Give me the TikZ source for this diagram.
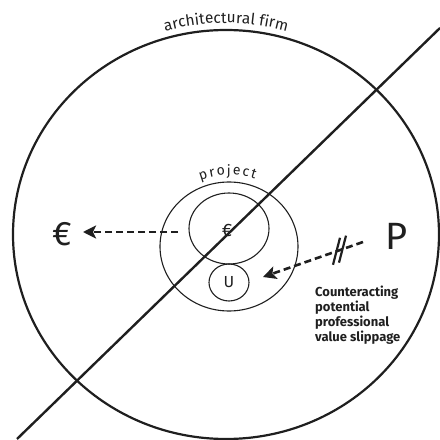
\documentclass[tikz,border=0pt]{standalone}
\usepackage{fontspec}
\setmainfont{Fira Sans}
\usetikzlibrary{arrows.meta,decorations.text,shapes.geometric}
\begin{document}
\begin{tikzpicture}[x=1pt,y=1pt,
  ink/.style={black!88},
  thickring/.style={ink, draw, ellipse, line width=2.2pt, inner sep=0pt},
  thinring/.style={ink, draw, ellipse, line width=1.1pt, inner sep=0pt},
  bigline/.style={ink, line width=2.4pt},
  dasharrow/.style={ink, line width=2.6pt, dash pattern=on 7pt off 4pt,
    -{Stealth[length=13pt,width=13pt,inset=3pt]}},
  breakmark/.style={ink, line width=2.2pt},
  label/.style={ink, inner sep=0pt},
]
\useasboundingbox (0,0) rectangle (440,440);

% rings
\node[thickring, minimum width=426pt, minimum height=409pt] (firm) at (226,205.5) {};
\node[thinring, minimum width=138pt, minimum height=129pt] (project) at (229,193.5) {};
\node[thinring, minimum width=80pt, minimum height=71pt] (eurocircle) at (229,211.5) {};
\node[thinring, minimum width=40pt, minimum height=37pt] (ucircle) at (229,157.5) {};

% diagonal line
\coordinate (d1) at (17,1);
\coordinate (d2) at (440,412);
\draw[bigline] (d1) -- (d2);

% curved labels
\path[decorate, decoration={text along path, text align=center,
  text={|\fontsize{15.5}{15.5}\selectfont\color{black!88}|architectural firm}}]
  (116,388.66) arc[start angle=120, end angle=60, x radius=220, y radius=211.5];
\path[decorate, decoration={text along path, text align=fit to path,
  text={|\fontsize{14}{14}\selectfont\color{black!88}|project}}]
  (229,193.5) ++(112:76 and 71.5) arc[start angle=112, end angle=70, x radius=76, y radius=71.5];

% text nodes
\node[label, font=\fontsize{34}{34}\selectfont] (leuro) at (62.5,206) {€};
\node[label, font=\fontsize{18}{18}\selectfont] (ceuro) at (227,209.5) {€};
\node[label, font=\fontsize{16}{16}\selectfont] (U) at (229,157.5) {U};
\node[label, font=\fontsize{38}{38}\selectfont] (P) at (397,204) {P};
\node[label, anchor=north west, align=left, font=\fontsize{13}{15}\selectfont\bfseries]
  (note) at (315,154) {Counteracting\\potential\\professional\\value slippage};

% arrows
\coordinate (a1s) at (178,208);
\coordinate (a1e) at (83,208);
\draw[dasharrow] (a1s) -- (a1e);

\coordinate (a2s) at (363,198);
\coordinate (a2e) at (263,163);
\draw[dasharrow] (a2s) -- (a2e);
\path (a2s) -- (a2e) coordinate[pos=0.265] (brk1) coordinate[pos=0.205] (brk2);
\draw[breakmark] ([shift={(-3.5,-13.5)}]brk1) -- ([shift={(3.5,13.5)}]brk1);
\draw[breakmark] ([shift={(-3.5,-13.5)}]brk2) -- ([shift={(3.5,13.5)}]brk2);
\end{tikzpicture}
\end{document}
